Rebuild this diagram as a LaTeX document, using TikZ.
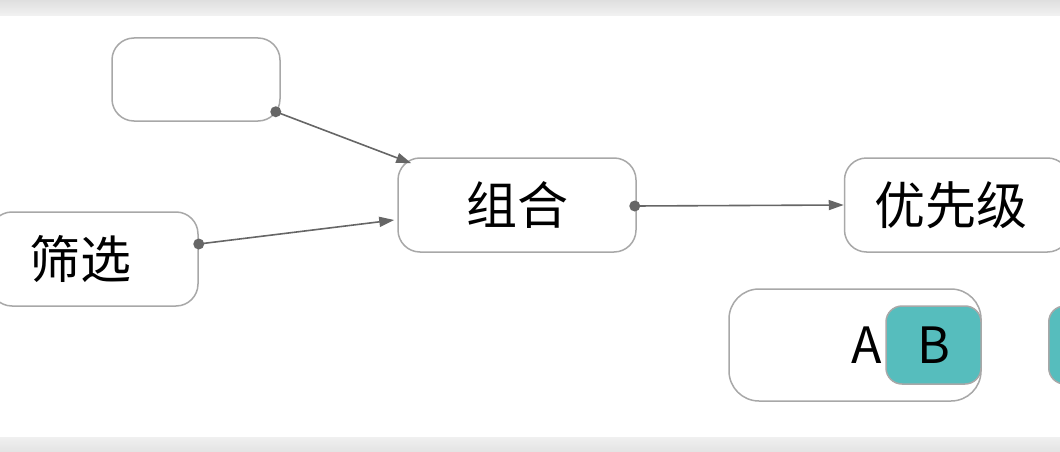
\documentclass[tikz,border=0pt]{standalone}
\usepackage{fontspec}
\setmainfont{Noto Sans CJK SC}
\usetikzlibrary{calc,arrows.meta,positioning}
\definecolor{BoxGray}{HTML}{A8A8A8}
\definecolor{LinkGray}{HTML}{666666}
\definecolor{TealB}{HTML}{56BDBD}
\tikzset{
    block/.style = {draw=BoxGray, line width=1.5pt, rounded corners=22pt, fill=white,
        minimum height=94pt, align=center, font=\fontsize{51}{55}\selectfont},
    tag/.style = {draw=BoxGray, line width=1.5pt, rounded corners=16pt, fill=TealB,
        minimum height=78pt, minimum width=95pt, font=\fontsize{50}{54}\selectfont},
    link/.style = {draw=LinkGray, line width=1.6pt, -{Triangle[length=15pt,width=10pt]}},
    dot/.style = {circle, fill=LinkGray, inner sep=0pt, minimum size=11pt}
}
\begin{document}
\begin{tikzpicture}[x=1pt,y=-1pt]
    \useasboundingbox (0,0) rectangle (1060,452);
    % shadow bands
    \fill[top color=gray!25, bottom color=gray!10] (0,0) rectangle (1060,16);
    \fill[top color=gray!12, bottom color=gray!22] (0,437) rectangle (1060,452);
    \node [block, minimum width=168pt, minimum height=83pt] (empty) at (196,79.5) {};
    \node [block, minimum width=208pt] (filter) at (94,259) {\hspace*{-28pt}筛选};
    \node [block, minimum width=238pt] (combine) at (517,205) {组合};
    \node [block, minimum width=225pt] (priority) at (957,205) {\hspace*{-12pt}优先级};
    \node [block, minimum width=252pt, minimum height=112pt, rounded corners=30pt] (pair) at (855,345) {};
    \node [tag] (tagB) at (933.5,345) {B};
    \node [font=\fontsize{50}{54}\selectfont, left=0pt of tagB] (tagA) {A};
    \node [tag, anchor=west] (tagC) at (1048,345) {};
    % connectors
    \coordinate (e1) at ($(empty.south east)+(-5,-10)$);
    \coordinate (f1) at ($(filter.east)+(0,-15)$);
    \coordinate (c1) at ($(combine.east)+(-2,1)$);
    \draw [link] (e1) -- ($(combine.north west)+(14,6)$);
    \draw [link] (f1) -- ($(combine.west)+(-3,15)$);
    \draw [link] (c1) -- (priority.west);
    \node [dot] at (e1) {};
    \node [dot] at (f1) {};
    \node [dot] at (c1) {};
\end{tikzpicture}
\end{document}
